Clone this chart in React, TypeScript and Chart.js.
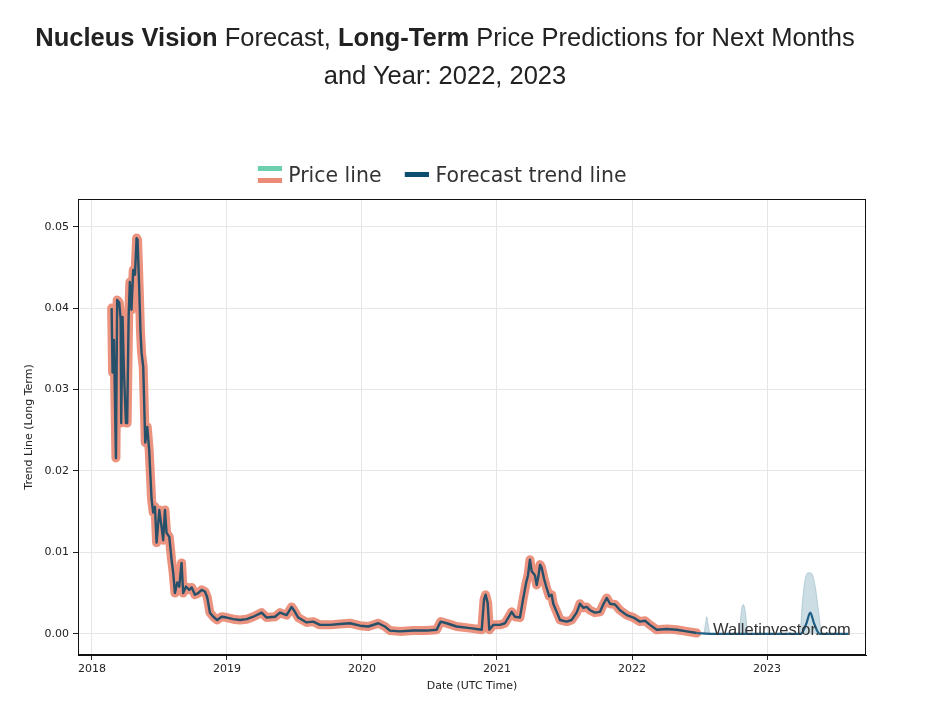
import React, { useEffect, useRef } from "react";
import { Chart, registerables } from "chart.js";

Chart.register(...registerables);

// ---- Data (x = decimal year, y = price) ----
const priceYears = [
  2018.146, 2018.153, 2018.163, 2018.178, 2018.187, 2018.202, 2018.213, 2018.217, 2018.227, 2018.237,
  2018.252, 2018.261, 2018.272, 2018.281, 2018.293, 2018.306, 2018.319, 2018.331, 2018.338, 2018.35,
  2018.36, 2018.368, 2018.38, 2018.395, 2018.41, 2018.424, 2018.442, 2018.454, 2018.467, 2018.479,
  2018.499, 2018.516, 2018.528, 2018.541, 2018.553, 2018.573, 2018.59, 2018.602, 2018.615, 2018.632,
  2018.647, 2018.664, 2018.676, 2018.696, 2018.721, 2018.739, 2018.763, 2018.787, 2018.813, 2018.837,
  2018.854, 2018.874, 2018.899, 2018.928, 2018.961, 2018.998, 2019.047, 2019.096, 2019.146, 2019.195,
  2019.257, 2019.294, 2019.356, 2019.393, 2019.442, 2019.479, 2019.496, 2019.528, 2019.59, 2019.639,
  2019.689, 2019.763, 2019.837, 2019.911, 2019.985, 2020.047, 2020.121, 2020.17, 2020.207, 2020.281,
  2020.38, 2020.479, 2020.553, 2020.583, 2020.627, 2020.701, 2020.8, 2020.887, 2020.904, 2020.916,
  2020.931, 2020.943, 2020.973, 2021.022, 2021.059, 2021.084, 2021.109, 2021.133, 2021.17, 2021.195,
  2021.215, 2021.23, 2021.244, 2021.257, 2021.281, 2021.294, 2021.306, 2021.319, 2021.331, 2021.348,
  2021.368, 2021.387, 2021.405, 2021.417, 2021.442, 2021.467, 2021.516, 2021.553, 2021.59, 2021.615,
  2021.639, 2021.664, 2021.689, 2021.726, 2021.763, 2021.787, 2021.813, 2021.837, 2021.874, 2021.911,
  2021.961, 2022.01, 2022.059, 2022.096, 2022.133, 2022.183, 2022.257, 2022.331, 2022.405, 2022.479,
];
const priceValues = [
  0.04, 0.0321, 0.0361, 0.0216, 0.041, 0.0407, 0.0386, 0.0259, 0.0389, 0.0324,
  0.0259, 0.0259, 0.0389, 0.0432, 0.0398, 0.0447, 0.0441, 0.0486, 0.0484, 0.0426,
  0.037, 0.0345, 0.0328, 0.0235, 0.0254, 0.0226, 0.0165, 0.0149, 0.0156, 0.0112,
  0.0152, 0.0131, 0.0115, 0.0152, 0.0124, 0.0119, 0.0091, 0.0075, 0.005, 0.0063,
  0.0058, 0.0087, 0.005, 0.0058, 0.0054, 0.0057, 0.0048, 0.005, 0.0054, 0.0052,
  0.0045, 0.0026, 0.0021, 0.0017, 0.0021, 0.002, 0.0018, 0.0017, 0.0018, 0.0021,
  0.0026, 0.002, 0.0021, 0.0026, 0.0023, 0.0033, 0.0029, 0.002, 0.0014, 0.0015,
  0.0011, 0.0011, 0.0012, 0.0013, 0.001, 0.0009, 0.0013, 0.0009, 0.0004, 0.0003,
  0.0004, 0.0004, 0.0005, 0.0015, 0.0013, 0.0009, 0.0007, 0.0005, 0.0042, 0.0048,
  0.0038, 0.0005, 0.0011, 0.0011, 0.0013, 0.002, 0.0027, 0.0021, 0.002, 0.0044,
  0.0062, 0.0072, 0.0091, 0.0077, 0.0072, 0.006, 0.007, 0.0085, 0.0081, 0.0068,
  0.0056, 0.0046, 0.0048, 0.0037, 0.0027, 0.0017, 0.0015, 0.0017, 0.0026, 0.0037,
  0.0032, 0.0033, 0.0029, 0.0026, 0.0027, 0.0036, 0.0044, 0.0037, 0.0036, 0.0029,
  0.0023, 0.002, 0.0015, 0.0016, 0.0011, 0.0005, 0.0006, 0.0005, 0.0003, 0.0001,
];

const forecastYears = [2022.479, 2022.6, 2023.25, 2023.29, 2023.32, 2023.35, 2023.39, 2023.6];
const forecastValues = [0.0001, 0.0, 0.0, 0.0012, 0.0026, 0.0012, 0.0, 0.0];

const bandYears = [
  2022.479, 2022.53, 2022.545, 2022.553, 2022.562, 2022.58, 2022.793, 2022.81, 2022.824, 2022.84,
  2022.859, 2023.244, 2023.26, 2023.28, 2023.305, 2023.33, 2023.355, 2023.38, 2023.407, 2023.6,
];
const bandUpper = [
  0.0, 0.0, 0.0013, 0.0021, 0.0013, 0.0, 0.0, 0.0028, 0.0036, 0.0026,
  0.0, 0.0, 0.0035, 0.0065, 0.0075, 0.0074, 0.006, 0.003, 0.0, 0.0,
];

const xTickYears = [2018, 2019, 2020, 2021, 2022, 2023];
const yTickValues = [0.0, 0.01, 0.02, 0.03, 0.04, 0.05];

const toPoints = (xs: number[], ys: number[]) => xs.map((x, i) => ({ x, y: ys[i] }));

const TICK_FONT = { family: '"DejaVu Sans", sans-serif', size: 11 };

const framePlugin = {
  id: "frame",
  afterDatasetsDraw(chart: any) {
    const { ctx, chartArea } = chart;
    ctx.save();
    ctx.font = '16.5px "Liberation Sans", Arial, sans-serif';
    ctx.fillStyle = "#333";
    ctx.textBaseline = "middle";
    ctx.textAlign = "left";
    ctx.fillText("Walletinvestor.com", chartArea.right - 153, chartArea.bottom - 25);
    ctx.restore();
  },
  afterDraw(chart: any) {
    const { ctx, chartArea } = chart;
    ctx.save();
    ctx.strokeStyle = "#111";
    ctx.lineWidth = 1;
    ctx.strokeRect(
      Math.round(chartArea.left) + 0.5,
      Math.round(chartArea.top) + 0.5,
      Math.round(chartArea.right - chartArea.left) - 1,
      Math.round(chartArea.bottom - chartArea.top) - 1
    );
    ctx.restore();
  },
};

export default function App() {
  const canvasRef = useRef<HTMLCanvasElement | null>(null);

  useEffect(() => {
    if (!canvasRef.current) return;
    const chart = new Chart(canvasRef.current, {
      type: "line",
      data: {
        datasets: [
          {
            label: "Trend (history)",
            data: toPoints(priceYears, priceValues),
            borderColor: "#27506b",
            borderWidth: 2.4,
            pointRadius: 0,
            tension: 0,
            fill: false,
            order: 0,
            borderJoinStyle: "round",
          },
          {
            label: "Forecast trend line",
            data: toPoints(forecastYears, forecastValues),
            borderColor: "#1f5f85",
            borderWidth: 2.2,
            pointRadius: 0,
            cubicInterpolationMode: "monotone",
            fill: false,
            order: 1,
          },
          {
            label: "Price line",
            data: toPoints(priceYears, priceValues),
            borderColor: "rgba(233,135,113,0.9)",
            borderWidth: 9,
            pointRadius: 0,
            tension: 0,
            fill: false,
            order: 2,
            borderJoinStyle: "round",
            borderCapStyle: "round",
          },
          {
            label: "Band",
            data: toPoints(bandYears, bandUpper),
            borderColor: "rgba(150,185,200,0.6)",
            backgroundColor: "rgba(170,198,210,0.6)",
            borderWidth: 1,
            pointRadius: 0,
            cubicInterpolationMode: "monotone",
            fill: { value: 0 },
            order: 3,
          },
        ],
      },
      options: {
        responsive: false,
        devicePixelRatio: 1,
        animation: false,
        layout: { padding: { left: 0, top: 199, right: 61, bottom: 0 } },
        plugins: {
          legend: { display: false },
          tooltip: { enabled: false },
          title: { display: false },
        },
        scales: {
          x: {
            type: "linear",
            min: 2017.897,
            max: 2023.733,
            afterBuildTicks: (s: any) => {
              s.ticks = xTickYears.map((v) => ({ value: v }));
            },
            afterFit: (s: any) => {
              s.height = 54;
            },
            ticks: {
              callback: (v: any) => String(v),
              font: TICK_FONT,
              color: "#222",
              padding: 3,
              maxRotation: 0,
              autoSkip: false,
            },
            grid: { color: "#e6e6e6", tickColor: "#222", tickLength: 5, drawTicks: true },
            border: { display: true, color: "#111" },
            title: {
              display: true,
              text: "Date (UTC Time)",
              font: TICK_FONT,
              color: "#222",
              padding: { top: 0, bottom: 16 },
            },
          },
          y: {
            type: "linear",
            min: -0.0026,
            max: 0.0534,
            afterBuildTicks: (s: any) => {
              s.ticks = yTickValues.map((v) => ({ value: v }));
            },
            afterFit: (s: any) => {
              s.width = 78;
            },
            ticks: {
              callback: (v: any) => Number(v).toFixed(2),
              font: TICK_FONT,
              color: "#222",
              padding: 4,
              autoSkip: false,
            },
            grid: { color: "#e6e6e6", tickColor: "#222", tickLength: 5, drawTicks: true },
            border: { display: true, color: "#111" },
            title: {
              display: true,
              text: "Trend Line (Long Term)",
              font: TICK_FONT,
              color: "#222",
              padding: { top: 23, bottom: 0 },
            },
          },
        },
      } as any,
      plugins: [framePlugin],
    });
    return () => chart.destroy();
  }, []);

  return (
    <div
      style={{
        position: "absolute",
        left: 0,
        top: 0,
        width: 927,
        height: 709,
        background: "#fff",
        overflow: "hidden",
      }}
    >
      <canvas
        ref={canvasRef}
        width={927}
        height={709}
        style={{ position: "absolute", left: 0, top: 0, width: 927, height: 709 }}
      />
      <div
        style={{
          position: "absolute",
          left: 0,
          top: 18,
          width: 890,
          textAlign: "center",
          fontFamily: '"Liberation Sans", Arial, sans-serif',
          fontSize: 25.5,
          lineHeight: "38px",
          color: "#222",
          whiteSpace: "nowrap",
        }}
      >
        <b>Nucleus Vision</b> Forecast, <b>Long-Term</b> Price Predictions for Next Months
        <br />
        and Year: 2022, 2023
      </div>
      <div
        style={{
          position: "absolute",
          left: 0,
          top: 160,
          width: 884,
          height: 28,
          display: "flex",
          justifyContent: "center",
          alignItems: "center",
          fontFamily: '"DejaVu Sans", sans-serif',
          fontSize: 22,
          color: "#333",
          transform: "scaleX(0.93)",
          transformOrigin: "442px 14px",
          whiteSpace: "nowrap",
        }}
      >
        <div style={{ width: 26, height: 17, display: "flex", flexDirection: "column", justifyContent: "space-between" }}>
          <div style={{ height: 5, background: "#6ccfb0" }} />
          <div style={{ height: 5, background: "#ec8c78" }} />
        </div>
        <span style={{ marginLeft: 7 }}>Price line</span>
        <div style={{ width: 26, height: 5, background: "#0c4d70", marginLeft: 25 }} />
        <span style={{ marginLeft: 7 }}>Forecast trend line</span>
      </div>
    </div>
  );
}
